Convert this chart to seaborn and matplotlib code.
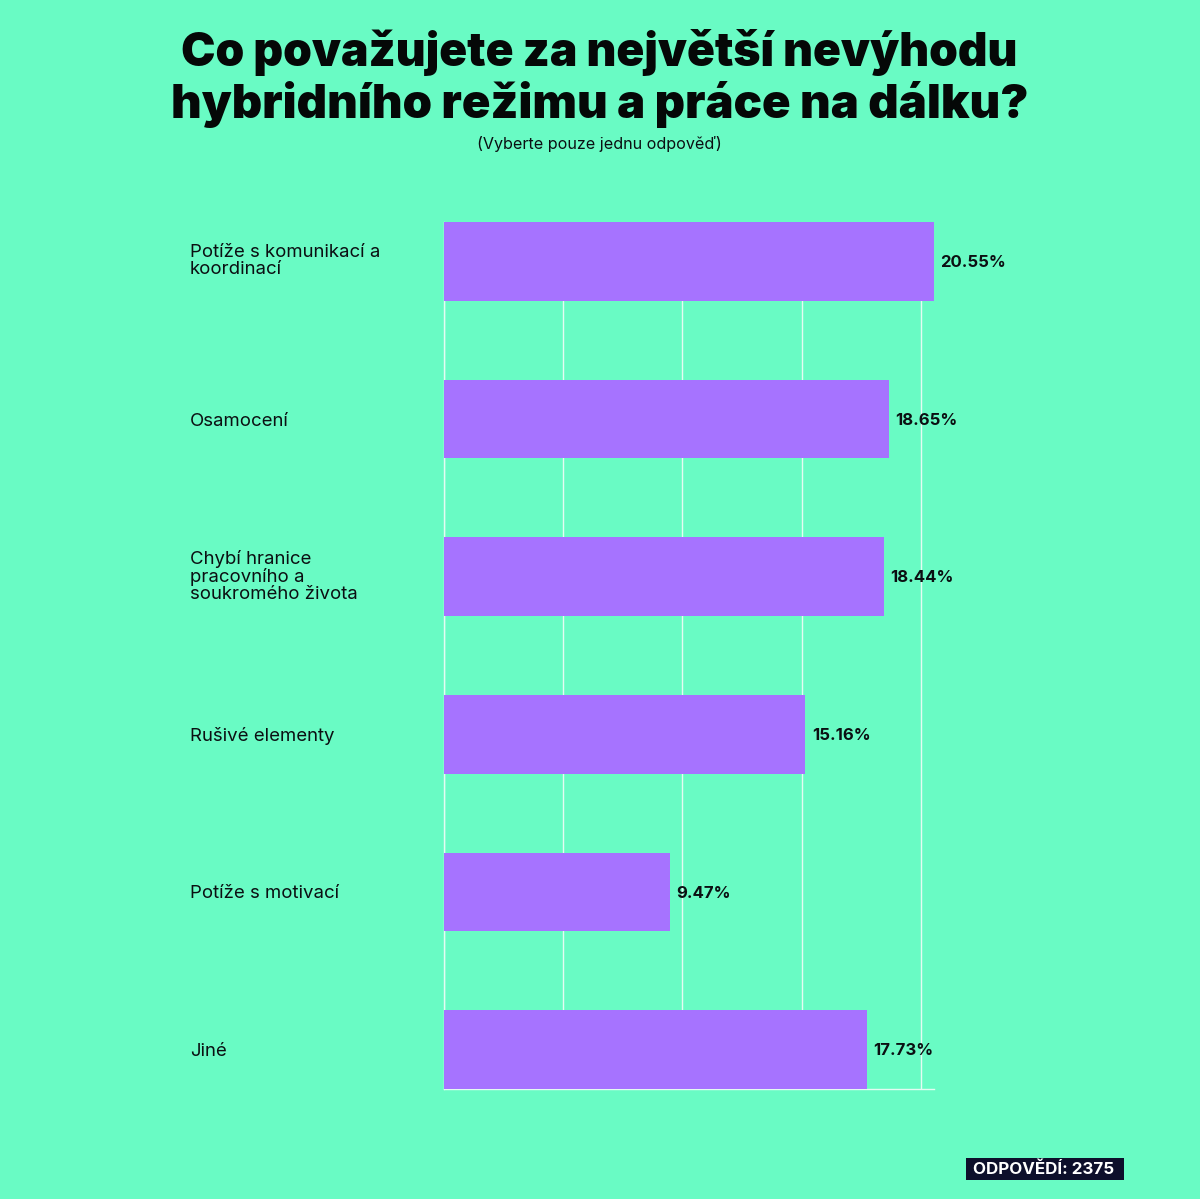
import matplotlib.pyplot as plt
from matplotlib.transforms import ScaledTranslation
import seaborn as sns
import pandas as pd

categories = ['Potíže s komunikací a\nkoordinací', 'Osamocení', 'Chybí hranice\npracovního a\nsoukromého života',
              'Rušivé elementy', 'Potíže s motivací', 'Jiné']
values = [20.55, 18.65, 18.44, 15.16, 9.47, 17.73]
x_ticks = [0, 5, 10, 15, 20]

BG = '#69fbc4'
BAR = '#a673ff'
INK = '#0b0f12'
GRID = '#e4fbf2'

sns.set_theme(style='white', rc={'figure.facecolor': BG, 'axes.facecolor': BG, 'savefig.facecolor': BG})
plt.rcParams['font.family'] = ['Inter', 'DejaVu Sans']

W, H = 1200, 1199
fig = plt.figure(figsize=(W / 100, H / 100), dpi=100)
ax = fig.add_axes([444 / W, 1 - 1089 / H, 490 / W, 867 / H])

df = pd.DataFrame({'answer': categories, 'share': values})
sns.barplot(data=df, x='share', y='answer', color=BAR, saturation=1, width=0.5, linewidth=0, ax=ax, zorder=3)

ax.set_xlim(0, 20.55)
ax.set_ylim(5.25, -0.25)
ax.set_xlabel('')
ax.set_ylabel('')
ax.set_xticks(x_ticks)
ax.tick_params(axis='x', length=0, labelbottom=False)
ax.tick_params(axis='y', length=0, pad=183, labelsize=13.4, labelcolor=INK)
for lab in ax.get_yticklabels():
    lab.set_ha('left')
    lab.set_linespacing(1.0)
    # wrapped labels sit a little higher in the original
    if '\n' in lab.get_text():
        lab.set_transform(lab.get_transform() + ScaledTranslation(0, 0.02, fig.dpi_scale_trans))

ax.grid(axis='x', color=GRID, linewidth=1.0, zorder=1)
ax.grid(axis='y', visible=False)
sns.despine(ax=ax, top=True, right=True)
for side in ['left', 'bottom']:
    ax.spines[side].set_color(GRID)
    ax.spines[side].set_linewidth(1.0)

for i, v in enumerate(values):
    ax.annotate(f'{v:.2f}%', (v, i), xytext=(4.7, -0.8), textcoords='offset points', va='center', ha='left',
                fontsize=12, fontweight='bold', color=INK, zorder=5, annotation_clip=False)

fig.text(599 / W, 1 - 53 / H, 'Co považujete za největší nevýhodu', ha='center', va='center',
         fontsize=33.2, fontweight='black', color='#050807')
fig.text(599.5 / W, 1 - 104 / H, 'hybridního režimu a práce na dálku?', ha='center', va='center',
         fontsize=34, fontweight='black', color='#050807')
fig.text(599 / W, 1 - 144 / H, '(Vyberte pouze jednu odpověď)', ha='center', va='center',
         fontsize=11.6, color=INK)
fig.patches.append(plt.Rectangle((966 / W, 1 - 1180 / H), 158 / W, 22 / H, transform=fig.transFigure,
                                 facecolor='#0d0f2b', edgecolor='none', figure=fig))
fig.text(1044 / W, 1 - 1169 / H, 'ODPOVĚDÍ: 2375', ha='center', va='center', fontsize=12.2, fontweight='bold',
         color='white')

fig.savefig('out.png', dpi=100)
